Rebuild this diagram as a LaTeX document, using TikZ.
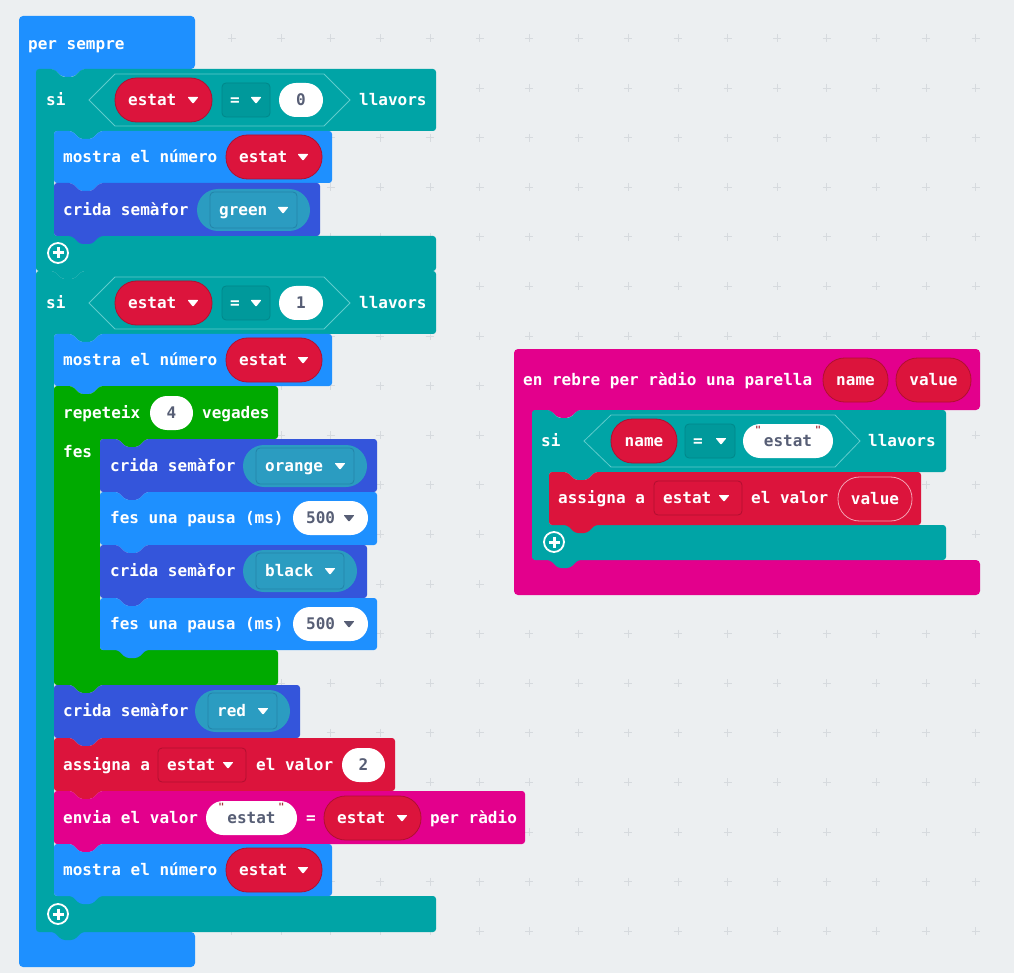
\documentclass[tikz,border=0pt]{standalone}
\usepackage{fontspec}
\newfontfamily\blockfont{DejaVu Sans Mono}
\usetikzlibrary{positioning,calc}

\definecolor{bgcol}{HTML}{ECEFF1}
\definecolor{gridcol}{HTML}{D6DADE}
\definecolor{basicblue}{HTML}{1E90FF}
\definecolor{logicteal}{HTML}{00A4A6}
\definecolor{logicdark}{HTML}{00999B}
\definecolor{logicedge}{HTML}{00878A}
\definecolor{hexedge}{HTML}{5FCBCC}
\definecolor{loopgreen}{HTML}{00AA00}
\definecolor{varred}{HTML}{DC143C}
\definecolor{varedge}{HTML}{B10F30}
\definecolor{valedge}{HTML}{F4A3B4}
\definecolor{radiopink}{HTML}{E3008C}
\definecolor{funcblue}{HTML}{3455DB}
\definecolor{enumfill}{HTML}{2B9CC1}
\definecolor{enumedge}{HTML}{2383A8}
\definecolor{valgray}{HTML}{575E75}
\definecolor{quotered}{HTML}{A8323C}

\tikzset{
  lbl/.style={text=white, font=\blockfont\bfseries\fontsize{16}{18}\selectfont, inner sep=0pt, anchor=base west, yshift=-4.4pt},
  vallbl/.style={lbl, text=valgray, anchor=base},
  quotelbl/.style={text=quotered, font=\blockfont\bfseries\fontsize{10}{10}\selectfont, inner sep=0pt},
  varpill/.style={fill=varred, draw=varedge, line width=0.8pt, rounded corners=21.5pt},
  numpill/.style={fill=white, rounded corners=17pt},
  enumpill/.style={fill=enumfill, rounded corners=21pt},
  enumbox/.style={fill=enumfill, draw=enumedge, line width=0.8pt, rounded corners=4pt},
  opbox/.style={fill=logicdark, draw=logicedge, line width=0.8pt, rounded corners=4pt},
  varbox/.style={fill=varred, draw=varedge, line width=0.8pt, rounded corners=4pt},
  gridmark/.style={gridcol, line width=0.7pt},
}

% block outlines: statement, C-shaped with notch, C-shaped cap
\newcommand\stmtblock[5]{\fill[#1, rounded corners=3pt] (#2,#3) -- (#2+18,#3) -- (#2+26,#3+8) -- (#2+38,#3+8) -- (#2+46,#3) -- (#4,#3) -- (#4,#5) -- (#2+46,#5) -- (#2+38,#5+8) -- (#2+26,#5+8) -- (#2+18,#5) -- (#2,#5) -- cycle;}
\newcommand\cblock[8]{\fill[#1, rounded corners=3pt] (#2,#3) -- (#2+18,#3) -- (#2+26,#3+8) -- (#2+38,#3+8) -- (#2+46,#3) -- (#4,#3) -- (#4,#5) -- (#6+46,#5) -- (#6+38,#5+8) -- (#6+26,#5+8) -- (#6+18,#5) -- (#6,#5) -- (#6,#7) -- (#4,#7) -- (#4,#8) -- (#2+46,#8) -- (#2+38,#8+8) -- (#2+26,#8+8) -- (#2+18,#8) -- (#2,#8) -- cycle;}
\newcommand\capblock[8]{\fill[#1, rounded corners=4pt] (#2,#3) -- (#4,#3) -- (#4,#5) -- (#6+46,#5) -- (#6+38,#5+8) -- (#6+26,#5+8) -- (#6+18,#5) -- (#6,#5) -- (#6,#7) -- (#4,#7) -- (#4,#8) -- (#2,#8) -- cycle;}

% small parts
\newcommand\ddtri[3]{\fill[#3, rounded corners=0.8pt] (#1-5.5,#2-3) -- (#1+5.5,#2-3) -- (#1,#2+3.8) -- cycle;}
\newcommand\plusbtn[2]{\draw[white, line width=1.8pt] (#1,#2) circle[radius=10];
  \draw[white, line width=3pt] (#1-5.5,#2) -- (#1+5.5,#2) (#1,#2-5.5) -- (#1,#2+5.5);}
\newcommand\condhex[5]{\draw[hexedge, line width=0.8pt, fill=logicteal] (#1,#5) -- (#2,#5-26) -- (#3,#5-26) -- (#4,#5) -- (#3,#5+26) -- (#2,#5+26) -- cycle;}
\newcommand\varpill[5]{\draw[varpill] (#2,#4-22) rectangle (#3,#4+22);
  \node[lbl] (#1) at (#2+13,#4+1) {#5}; \ddtri{#3-19}{#4}{white}}
\newcommand\argpill[5]{\draw[varpill] (#2,#4-22) rectangle (#3,#4+22);
  \node[lbl, anchor=base] (#1) at ({(#2+#3)/2},#4+1) {#5};}
\newcommand\enumpill[5]{\fill[enumpill] (#2,#4-21) rectangle (#3,#4+21);
  \draw[enumbox] (#2+13,#4-18) rectangle (#3-13,#4+18);
  \node[lbl] (#1) at (#2+22,#4+1) {#5}; \ddtri{#3-27}{#4}{white}}
\newcommand\numpill[5]{\fill[numpill] (#2,#4-17) rectangle (#3,#4+17);
  \node[vallbl] (#1) at ({(#2+#3)/2},#4+1) {#5};}
\newcommand\mspill[5]{\fill[numpill] (#2,#4-17) rectangle (#3,#4+17);
  \node[vallbl, anchor=base west] (#1) at (#2+13,#4+1) {#5}; \ddtri{#3-19}{#4}{valgray}}
\newcommand\strpill[5]{\fill[numpill] (#2,#4-17) rectangle (#3,#4+17);
  \node[vallbl] (#1) at ({(#2+#3)/2},#4+1) {#5};
  \node[quotelbl] at ({(#2+#3)/2-30},#4-11) {"}; \node[quotelbl] at ({(#2+#3)/2+30},#4-11) {"};}
\newcommand\opbox[4]{\draw[opbox] (#2,#4-17) rectangle (#3,#4+17);
  \node[lbl, anchor=base] (#1) at (#2+13,#4+1) {=}; \ddtri{#3-14}{#4}{white}}
\newcommand\varbox[5]{\draw[varbox] (#2,#4-17) rectangle (#3,#4+17);
  \node[lbl] (#1) at (#2+9,#4+1) {#5}; \ddtri{#3-18}{#4}{white}}

\begin{document}
\begin{tikzpicture}[x=1pt, y=-1pt]
    \useasboundingbox (0,0) rectangle (1014,973);
    \fill[bgcol] (0,0) rectangle (1014,973);

    % workspace grid
    \foreach \gx in {0,...,19}{
      \foreach \gy in {0,...,18}{
        \draw[gridmark] ({33.1+49.6*\gx-4},{38.4+49.6*\gy}) -- ++(8,0)
                        ({33.1+49.6*\gx},{38.4+49.6*\gy-4}) -- ++(0,8);
      }
    }

    % per sempre
    \capblock{basicblue}{19}{16}{195}{69}{36}{932}{967}
    \node[lbl] (forever) at (28,45) {per sempre};

    % si estat = 0
    \cblock{logicteal}{36}{69}{436}{131}{54}{236}{271}
    \node[lbl] (si1) at (46,101) {si};
    \condhex{89}{115}{324}{350}{100}
    \varpill{si1var}{115}{212}{100}{estat}
    \opbox{si1op}{222}{270}{100}
    \numpill{si1num}{279}{323}{100}{0}
    \node[lbl] (si1then) at (359,101) {llavors};

    \stmtblock{basicblue}{54}{131}{332}{183}
    \node[lbl] (show1) at (63,158) {mostra el número};
    \varpill{show1var}{226}{322}{157}{estat}

    \stmtblock{funcblue}{54}{183}{320}{236}
    \node[lbl] (call1) at (63,211) {crida semàfor};
    \enumpill{call1arg}{197}{310}{210}{green}
    \plusbtn{58}{253}

    % si estat = 1
    \cblock{logicteal}{36}{271}{436}{334}{54}{896}{932}
    \node[lbl] (si2) at (46,304) {si};
    \condhex{89}{115}{324}{350}{303}
    \varpill{si2var}{115}{212}{303}{estat}
    \opbox{si2op}{222}{270}{303}
    \numpill{si2num}{279}{323}{303}{1}
    \node[lbl] (si2then) at (359,304) {llavors};

    \stmtblock{basicblue}{54}{334}{332}{386}
    \node[lbl] (show2) at (63,361) {mostra el número};
    \varpill{show2var}{226}{322}{360}{estat}

    % repeteix 4 vegades
    \cblock{loopgreen}{54}{386}{278}{439}{100}{650}{685}
    \node[lbl] (rep) at (63,414) {repeteix};
    \numpill{repnum}{150}{193}{413}{4}
    \node[lbl] (reptimes) at (202,414) {vegades};
    \node[lbl] (repdo) at (63,453) {fes};

    \stmtblock{funcblue}{100}{439}{377}{492}
    \node[lbl] (call2) at (110,467) {crida semàfor};
    \enumpill{call2arg}{243}{367}{466}{orange}

    \stmtblock{basicblue}{100}{492}{377}{545}
    \node[lbl] (pause1) at (110,519) {fes una pausa (ms)};
    \mspill{pause1ms}{293}{368}{518}{500}

    \stmtblock{funcblue}{100}{545}{367}{598}
    \node[lbl] (call3) at (110,572) {crida semàfor};
    \enumpill{call3arg}{243}{357}{571}{black}

    \stmtblock{basicblue}{100}{598}{377}{650}
    \node[lbl] (pause2) at (110,625) {fes una pausa (ms)};
    \mspill{pause2ms}{293}{368}{624}{500}

    % after the loop
    \stmtblock{funcblue}{54}{685}{300}{738}
    \node[lbl] (call4) at (63,712) {crida semàfor};
    \enumpill{call4arg}{195}{290}{711}{red}

    \stmtblock{varred}{54}{738}{395}{791}
    \node[lbl] (set1) at (63,766) {assigna a};
    \varbox{set1var}{158}{246}{765}{estat}
    \node[lbl] (set1to) at (256,766) {el valor};
    \numpill{set1num}{342}{385}{765}{2}

    \stmtblock{radiopink}{54}{791}{525}{844}
    \node[lbl] (send) at (63,819) {envia el valor};
    \strpill{sendkey}{206}{297}{818}{estat}
    \node[lbl, anchor=base] (sendeq) at (311,819) {=};
    \varpill{sendvar}{324}{421}{818}{estat}
    \node[lbl] (sendradio) at (430,819) {per ràdio};

    \stmtblock{basicblue}{54}{844}{332}{896}
    \node[lbl] (show3) at (63,871) {mostra el número};
    \varpill{show3var}{226}{322}{870}{estat}
    \plusbtn{58}{914}

    % en rebre per radio
    \capblock{radiopink}{514}{349}{980}{410}{532}{560}{595}
    \node[lbl] (recv) at (523,381) {en rebre per ràdio una parella};
    \argpill{recvname}{823}{888}{380}{name}
    \argpill{recvvalue}{896}{971}{380}{value}

    \cblock{logicteal}{532}{410}{946}{472}{549}{525}{560}
    \node[lbl] (si3) at (541,442) {si};
    \condhex{584}{611}{835}{860}{441}
    \argpill{si3var}{611}{677}{441}{name}
    \opbox{si3op}{685}{735}{441}
    \strpill{si3str}{743}{833}{441}{estat}
    \node[lbl] (si3then) at (868,442) {llavors};

    \stmtblock{varred}{549}{472}{921}{525}
    \node[lbl] (set2) at (558,499) {assigna a};
    \varbox{set2var}{654}{742}{498}{estat}
    \node[lbl] (set2to) at (751,499) {el valor};
    \draw[varpill, draw=valedge] (838,477) rectangle (912,521);
    \node[lbl, anchor=base] (set2val) at (875,500) {value};
    \plusbtn{554}{542}
\end{tikzpicture}
\end{document}
